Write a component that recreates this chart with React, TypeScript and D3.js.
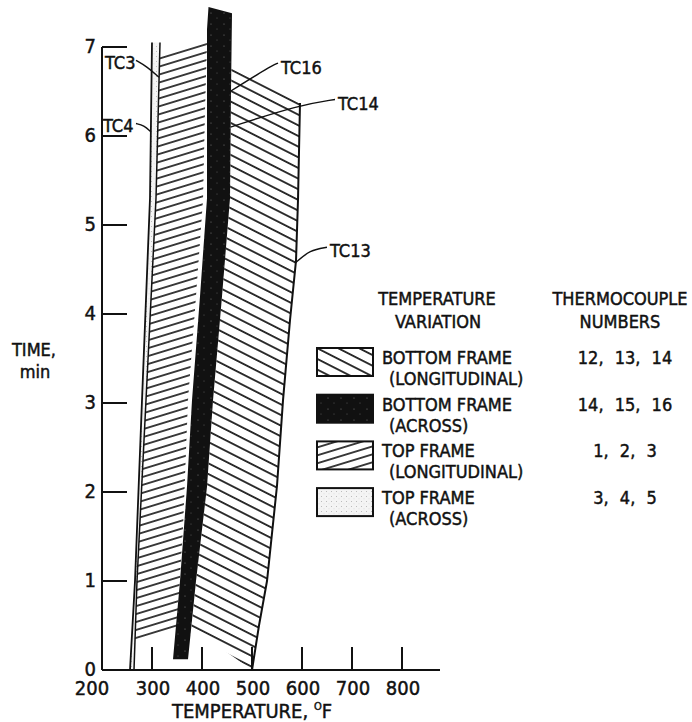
import React from 'react';
import * as d3 from 'd3';

// axis ticks
const xTicks = [300, 400, 500, 600, 700, 800];
const xTickLabels = [200, 300, 400, 500, 600, 700, 800];
const yTicks = [1, 2, 3, 4, 5, 6, 7];
const yTickLabels = [0, 1, 2, 3, 4, 5, 6, 7];

// band edges, [temperature F, time min]
const tc4Edge = [[256, 0], [266, 1], [280, 3.03], [296, 5.3], [300, 7.05]];
const tc3Edge = [[264, 0], [270, 1], [288, 3.03], [308, 5.3], [316, 7.05]];
const topLongLeft = [[266, 0.31], [270, 1], [288, 3.03], [308, 5.3], [316, 6.94]];
const topLongRight = [[410, 7.06], [406, 6.3], [402, 5.28], [388, 4.2], [372, 3.03], [362, 1.6], [350, 0.48]];
const bottomAcrossLeft = [[342, 0.12], [356, 1], [370, 2.06], [380, 3.03], [396, 4.2], [410, 5.3], [410, 6.5], [410, 7.2], [413, 7.45]];
const bottomAcrossRight = [[460, 7.38], [458, 6.5], [456, 5.3], [440, 4.2], [422, 3.03], [410, 2.06], [388, 1], [372, 0.12]];
const bottomLongLeft = [[379, 0.48], [388, 1], [410, 2.06], [422, 3.03], [440, 4.2], [456, 5.3], [458, 6.5], [459, 6.76]];
const bottomLongRight = [[596, 6.37], [592, 5.28], [588, 4.6], [576, 3.93], [562, 3.03], [550, 2.07], [530, 1], [514, 0.5], [500, 0]];

// thermocouple call-outs: label position, leader from label to target
const callouts = [
  { name: 'TC3', at: [206, 6.83], path: [[268, 6.85], [290, 6.78], [314, 6.66]] },
  { name: 'TC4', at: [202, 6.12], path: [[268, 6.14], [284, 6.12], [297, 6.05]] },
  { name: 'TC16', at: [558, 6.78], path: [[552, 6.82], [536, 6.78], [456, 6.5]] },
  { name: 'TC14', at: [672, 6.37], path: [[666, 6.41], [596, 6.35], [457, 6.1]] },
  { name: 'TC13', at: [656, 4.72], path: [[650, 4.75], [616, 4.72], [586, 4.57]] },
];

const legendRows = [
  { l1: 'BOTTOM FRAME', l2: '(LONGITUDINAL)', nums: '12, 13, 14', fill: 'url(#hatchDown)' },
  { l1: 'BOTTOM FRAME', l2: '(ACROSS)', nums: '14, 15, 16', fill: 'url(#dark)' },
  { l1: 'TOP FRAME', l2: '(LONGITUDINAL)', nums: '1, 2, 3', fill: 'url(#hatchUp)' },
  { l1: 'TOP FRAME', l2: '(ACROSS)', nums: '3, 4, 5', fill: 'url(#light)' },
];

const FONT = "'Liberation Sans Narrow', 'DejaVu Sans Condensed', 'Liberation Sans', sans-serif";

export default function App() {
  const x = d3.scaleLinear().domain([200, 800]).range([102, 402]);
  const y = d3.scaleLinear().domain([0, 7]).range([670, 47]);
  const line = d3.line<number[]>().x(d => x(d[0])).y(d => y(d[1]));
  const smooth = d3.line<number[]>().x(d => x(d[0])).y(d => y(d[1])).curve(d3.curveBasis);

  const poly = (pts: number[][]) => line(pts) + 'Z';
  const thinBand = poly([...tc4Edge, ...tc3Edge.slice().reverse()]);
  const topLong = poly([...topLongLeft, ...topLongRight]);
  const bottomAcross = poly([...bottomAcrossLeft, ...bottomAcrossRight]);
  const bottomLong = poly([...bottomLongLeft, ...bottomLongRight]);

  // slightly heavier lettering, like the stencilled original
  const txt = { fontFamily: FONT, fill: '#111', stroke: '#111', strokeWidth: 0.45 } as React.CSSProperties;

  return (
    <svg width={692} height={722} style={{ position: 'absolute', left: 0, top: 0, background: '#fff' }}>
      <defs>
        <pattern id="hatchDown" patternUnits="userSpaceOnUse" width={9.5} height={9.5} patternTransform="rotate(27)">
          <line x1={0} y1={4.75} x2={9.5} y2={4.75} stroke="#111" strokeWidth={1.7} />
        </pattern>
        <pattern id="hatchUp" patternUnits="userSpaceOnUse" width={7.6} height={7.6} patternTransform="rotate(-17)">
          <line x1={0} y1={3.8} x2={7.6} y2={3.8} stroke="#111" strokeWidth={1.6} />
        </pattern>
        <pattern id="dark" patternUnits="userSpaceOnUse" width={13} height={11}>
          <rect width={13} height={11} fill="#111" />
          <circle cx={3} cy={2} r={0.6} fill="#777" />
          <circle cx={9} cy={7} r={0.5} fill="#666" />
        </pattern>
        <pattern id="light" patternUnits="userSpaceOnUse" width={5} height={5}>
          <rect width={5} height={5} fill="#f4f4f4" />
          <circle cx={1.5} cy={1.5} r={0.5} fill="#aaa" />
          <circle cx={4} cy={3.8} r={0.4} fill="#bbb" />
        </pattern>
      </defs>

      {/* bands */}
      <path d={topLong} fill="url(#hatchUp)" />
      <path d={bottomLong} fill="url(#hatchDown)" />
      <path d={line(bottomLongRight) || ''} fill="none" stroke="#111" strokeWidth={2} />
      <path d={bottomAcross} fill="url(#dark)" />
      <path d={thinBand} fill="url(#light)" />
      <path d={line(tc4Edge) || ''} fill="none" stroke="#111" strokeWidth={1.8} />
      <path d={line(tc3Edge) || ''} fill="none" stroke="#111" strokeWidth={1.5} />

      {/* axes */}
      <line x1={x(200)} x2={440} y1={y(0)} y2={y(0)} stroke="#111" strokeWidth={2} />
      <line x1={x(200)} x2={x(200)} y1={y(0)} y2={y(7)} stroke="#111" strokeWidth={2} />
      {xTicks.map(t => (
        <line key={t} x1={x(t)} x2={x(t)} y1={y(0)} y2={y(0) - 23} stroke="#111" strokeWidth={2} />
      ))}
      {yTicks.map(t => (
        <line key={t} x1={x(200)} x2={x(200) + 25} y1={y(t)} y2={y(t)} stroke="#111" strokeWidth={2} />
      ))}
      {xTickLabels.map((t, i) => (
        <text key={t} x={x(t) + (i === 0 ? -10 : 1)} y={y(0) + 25} textAnchor="middle" fontSize={20} style={txt}>{t}</text>
      ))}
      {yTickLabels.map(t => (
        <text key={t} x={x(200) - 6} y={y(t) + 6} textAnchor="end" fontSize={20} style={txt}>{t}</text>
      ))}
      <text x={x(200) + 150} y={718} textAnchor="middle" fontSize={20} style={txt}>
        TEMPERATURE, <tspan fontSize={11} dy={-8}>O</tspan><tspan dy={8}>F</tspan>
      </text>
      <text x={34} y={356} textAnchor="middle" fontSize={18} style={txt}>TIME,</text>
      <text x={35} y={378} textAnchor="middle" fontSize={18} style={txt}>min</text>

      {/* call-outs */}
      {callouts.map(c => (
        <g key={c.name}>
          <path d={smooth(c.path) || ''} fill="none" stroke="#111" strokeWidth={1.4} />
          <text x={x(c.at[0])} y={y(c.at[1]) + 7} fontSize={18} style={txt}>{c.name}</text>
        </g>
      ))}

      {/* legend */}
      <text x={437} y={305} textAnchor="middle" fontSize={18} style={txt}>TEMPERATURE</text>
      <text x={438} y={328} textAnchor="middle" fontSize={18} style={txt}>VARIATION</text>
      <text x={620} y={305} textAnchor="middle" fontSize={18} style={txt}>THERMOCOUPLE</text>
      <text x={620} y={328} textAnchor="middle" fontSize={18} style={txt}>NUMBERS</text>
      {legendRows.map((r, i) => {
        const top = 348 + i * 46.7;
        return (
          <g key={i}>
            <rect x={317} y={top} width={56} height={28} fill={r.fill} stroke="#111" strokeWidth={2} />
            <text x={382} y={top + 16} fontSize={18} style={txt}>{r.l1}</text>
            <text x={389} y={top + 37} fontSize={18} style={txt}>{r.l2}</text>
            <text x={625} y={top + 16} textAnchor="middle" fontSize={18} wordSpacing={6} style={txt}>{r.nums}</text>
          </g>
        );
      })}
    </svg>
  );
}
